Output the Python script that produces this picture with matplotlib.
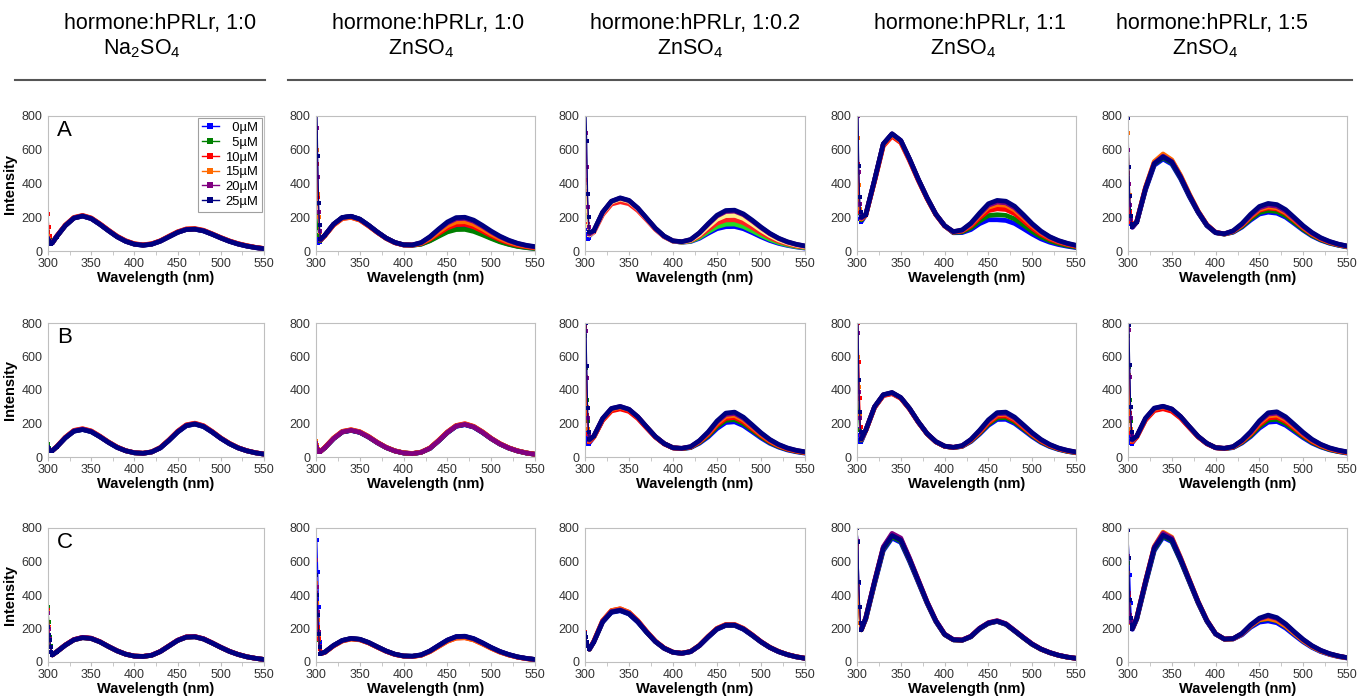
import matplotlib
matplotlib.use('Agg')
import matplotlib.pyplot as plt
from matplotlib.lines import Line2D
from matplotlib.ticker import MultipleLocator

plt.rcParams['font.family'] = ['Liberation Sans', 'DejaVu Sans']
plt.rcParams['mathtext.fontset'] = 'custom'
plt.rcParams['mathtext.rm'] = 'Liberation Sans'

# ---------------- data ----------------
WL = [300, 301, 302, 303, 304, 305, 310, 320, 330, 340, 350, 360, 370, 380, 390, 400,
      410, 420, 430, 440, 450, 460, 470, 480, 490, 500, 510, 520, 530, 540, 550]

CONC_LABELS = ['  0µM', '  5µM', '10µM', '15µM', '20µM', '25µM']
HEADER_1 = ['hormone:hPRLr, 1:0', 'hormone:hPRLr, 1:0', 'hormone:hPRLr, 1:0.2',
            'hormone:hPRLr, 1:1', 'hormone:hPRLr, 1:5']
HEADER_2 = [r'Na$_{\mathregular{2}}$SO$_{\mathregular{4}}$', r'ZnSO$_{\mathregular{4}}$',
            r'ZnSO$_{\mathregular{4}}$', r'ZnSO$_{\mathregular{4}}$', r'ZnSO$_{\mathregular{4}}$']
ROW_LETTERS = ['A', 'B', 'C']
X_TICKS = [300, 350, 400, 450, 500, 550]
Y_TICKS = [0, 200, 400, 600, 800]

# each panel: 6 series (0, 5, 10, 15, 20, 25 uM), values at WL
A1 = [
    [75,60,50,45,44,48,85,150,195,207,192,158,120,84,57,40,34,40,58,84,110,127,129,119,99,77,57,41,29,20,13],
    [110,85,65,52,46,48,85,151,196,208,193,159,121,85,58,41,35,41,59,85,111,128,130,120,100,78,58,42,30,21,14],
    [220,140,90,60,48,49,88,154,199,211,196,162,124,88,61,43,37,43,61,88,114,131,133,123,102,80,60,44,32,22,15],
    [90,70,55,47,45,48,86,152,197,209,194,160,122,86,59,42,36,42,60,86,112,129,131,121,101,79,59,43,31,21,14],
    [80,65,52,46,44,48,86,151,196,208,193,159,121,85,58,41,35,41,59,85,111,128,130,120,100,78,58,42,30,21,14],
    [70,58,50,45,44,48,85,150,195,207,192,158,120,84,57,40,34,40,58,84,110,127,129,119,99,77,57,41,29,20,13],
]
A2 = [
    [75,55,50,52,56,62,92,158,198,205,188,152,112,76,50,36,34,41,62,91,118,133,135,122,101,78,57,41,29,21,15],
    [280,205,135,95,70,62,92,158,198,205,188,152,112,76,50,36,34,40,60,87,113,127,128,116,96,74,54,39,27,20,14],
    [700,515,320,200,110,65,90,153,192,199,183,148,110,75,49,36,35,44,70,104,137,156,158,143,118,91,67,48,34,25,18],
    [900,600,340,200,110,65,90,154,193,200,184,149,110,75,49,36,35,46,75,114,150,172,174,158,131,101,75,54,39,28,21],
    [950,730,440,230,120,65,92,158,198,205,188,152,112,76,50,36,36,49,82,126,166,191,193,176,146,113,84,61,44,32,24],
    [1000,860,565,285,155,70,93,159,199,206,189,153,113,77,51,37,36,50,85,130,172,198,200,183,152,118,88,64,46,34,26],
]
A3 = [
    [130,100,80,72,75,90,116,226,291,310,295,250,191,132,86,59,52,56,75,105,132,144,145,132,109,84,62,45,33,24,17],
    [530,380,250,150,100,95,117,227,292,311,296,251,192,133,87,59,52,58,80,114,144,159,160,145,120,93,69,50,36,26,19],
    [680,420,260,160,105,95,112,215,278,292,280,240,185,128,84,58,53,61,88,128,165,184,185,168,139,108,80,58,42,30,22],
    [620,380,240,150,100,95,116,225,290,308,294,250,191,132,86,59,54,64,97,144,188,210,212,193,160,124,92,66,48,35,26],
    [900,700,495,260,140,100,118,229,294,313,298,253,193,133,87,60,55,67,106,158,207,234,236,215,178,138,102,74,53,39,29],
    [1000,850,650,335,200,110,120,230,295,315,300,255,195,135,88,60,55,68,108,162,212,240,242,220,183,142,105,76,55,40,30],
]
A4 = [
    [370,300,225,190,170,175,214,418,632,692,652,543,423,314,217,150,108,109,127,162,185,185,181,163,132,100,72,52,38,28,20],
    [700,460,320,225,190,185,214,418,632,692,652,543,423,314,217,150,110,113,137,178,210,215,211,190,154,116,84,61,44,32,23],
    [800,515,320,230,195,190,212,412,622,680,642,535,418,310,215,148,112,118,148,197,239,250,246,221,179,135,98,71,52,38,27],
    [850,670,390,250,200,190,213,415,628,688,648,540,421,312,216,149,113,121,156,210,259,275,271,243,197,149,108,78,57,42,30],
    [900,800,470,280,210,195,215,420,634,694,654,544,424,315,218,150,114,123,161,218,271,290,285,256,208,157,114,82,60,44,32],
    [1000,900,505,320,230,200,215,420,635,695,655,545,425,315,218,150,115,125,165,225,280,300,295,265,215,162,118,85,62,46,34],
]
A5 = [
    [360,280,200,160,140,140,170,362,508,545,515,428,322,228,150,108,100,111,141,183,219,230,224,200,162,123,89,64,46,34,24],
    [430,330,240,180,150,145,172,368,515,553,522,434,327,231,152,109,100,113,145,190,228,240,234,209,169,128,93,67,48,35,25],
    [460,320,230,170,145,142,175,375,525,568,535,445,335,235,155,110,101,116,151,200,241,255,249,222,180,136,99,71,51,37,27],
    [700,500,330,200,155,145,176,378,530,575,540,449,338,237,156,111,101,117,154,205,247,262,256,228,185,140,102,73,53,38,28],
    [600,400,270,190,150,143,174,372,520,562,530,440,331,233,154,110,102,118,158,211,255,272,265,236,191,145,106,76,55,40,29],
    [790,500,325,210,160,145,173,370,518,558,527,438,330,232,153,109,102,120,162,218,264,282,275,245,198,150,110,79,57,41,30],
]
B1 = [
    [60,48,38,34,33,38,60,114,154,164,151,121,87,57,37,25,22,30,54,99,148,186,196,181,148,111,79,54,37,25,17],
    [75,55,40,35,34,38,60,115,155,165,152,122,88,58,37,25,22,30,55,100,150,188,198,183,150,112,80,55,37,25,17],
    [62,50,39,34,33,38,62,118,159,169,156,125,90,60,38,26,23,31,57,103,154,192,202,187,153,114,82,56,38,26,18],
    [60,48,38,34,33,38,61,116,157,167,154,123,89,59,37,25,22,30,56,101,152,190,200,185,151,113,81,55,37,25,17],
    [60,48,38,34,33,38,60,115,156,166,153,122,88,58,37,25,22,30,55,100,151,189,199,184,150,112,80,55,37,25,17],
    [58,47,38,34,33,38,60,114,154,164,151,121,87,57,37,25,22,30,54,99,149,187,197,182,149,111,79,54,37,25,17],
]
B2 = [
    [80,60,40,32,30,33,54,109,149,159,147,119,85,56,36,24,20,28,51,96,145,183,193,178,146,109,77,53,36,24,16],
    [80,60,40,32,30,33,55,110,150,160,148,120,86,57,36,24,20,28,52,97,147,185,195,180,148,110,78,54,36,24,16],
    [95,70,45,33,30,33,57,113,153,163,151,123,88,58,37,25,21,29,54,100,150,188,199,183,151,112,80,55,37,25,17],
    [95,70,45,33,30,33,56,112,152,162,150,122,87,58,37,25,21,29,53,99,149,187,197,182,150,111,79,55,37,25,16],
    [85,62,42,32,30,33,55,110,150,160,148,120,86,57,36,24,20,28,52,97,147,185,195,180,148,110,78,54,36,24,16],
    [80,60,40,32,30,33,54,109,149,159,147,119,85,56,36,24,20,28,51,96,146,184,194,179,147,109,77,53,36,24,16],
]
B3 = [
    [160,120,95,80,75,85,120,222,280,293,278,235,177,120,79,55,50,56,82,120,170,206,210,187,151,114,82,59,42,31,23],
    [720,530,340,215,120,95,121,224,283,296,281,237,178,121,79,55,50,57,86,127,181,219,223,199,160,121,87,62,45,33,25],
    [780,470,250,140,100,92,118,218,275,287,272,230,173,118,78,54,51,59,90,134,191,231,236,210,169,128,92,66,47,35,26],
    [760,480,300,170,110,95,121,225,284,297,282,238,179,121,80,55,51,60,93,140,200,243,248,221,178,134,97,69,50,37,28],
    [900,750,470,230,130,100,124,229,289,301,284,240,180,122,80,55,52,61,96,146,209,254,260,231,186,141,102,73,52,39,30],
    [1000,800,545,295,150,105,125,230,290,302,285,240,180,122,80,55,52,62,98,150,215,262,268,238,192,145,105,75,54,40,31],
]
B4 = [
    [170,130,100,90,88,95,158,296,368,381,352,288,208,139,91,64,56,63,92,137,189,224,225,200,161,121,87,62,45,33,25],
    [450,345,240,160,110,100,159,298,370,383,353,289,209,139,91,64,56,64,95,142,196,233,235,209,168,127,91,65,47,34,26],
    [1000,800,570,350,180,110,157,295,366,378,350,286,207,138,90,64,57,65,98,147,203,243,245,218,175,132,95,68,49,36,27],
    [900,600,420,250,140,105,158,297,369,382,352,288,208,139,91,64,57,66,101,152,211,252,255,227,182,137,99,71,51,37,28],
    [950,740,390,230,130,105,160,300,371,384,354,289,209,140,92,65,58,67,103,156,216,258,261,232,187,141,102,73,52,39,29],
    [1000,900,460,270,150,110,160,300,372,385,355,290,210,140,92,65,58,68,105,160,222,265,268,238,192,145,105,75,54,40,30],
]
B5 = [
    [160,125,95,82,76,86,121,224,282,295,280,237,178,121,80,55,50,56,83,122,172,208,212,189,152,115,83,60,43,32,23],
    [720,535,340,215,120,95,122,226,285,298,283,239,179,122,80,56,50,57,87,128,182,221,225,200,161,122,88,63,45,33,25],
    [790,480,260,145,100,92,118,220,277,288,273,232,175,120,79,55,51,59,91,136,193,233,238,212,171,129,93,67,48,35,26],
    [770,490,300,170,110,95,122,227,286,299,284,240,180,122,81,56,51,60,94,142,202,245,250,223,180,136,98,70,50,37,28],
    [900,760,480,235,130,100,124,230,290,302,286,241,181,123,81,56,52,61,97,147,210,256,262,233,188,142,103,74,53,39,30],
    [1000,790,550,300,150,105,125,232,292,303,287,242,182,124,82,56,52,62,99,151,216,264,270,240,194,147,106,76,55,41,31],
]
C1 = [
    [290,200,140,95,60,42,60,100,132,145,140,120,92,66,46,35,33,40,62,95,128,148,150,137,113,87,63,45,31,22,15],
    [330,240,150,95,60,42,61,101,133,146,141,121,93,67,47,35,33,40,63,96,129,149,151,138,114,88,64,45,31,22,15],
    [310,210,140,92,58,42,61,102,134,147,142,122,93,67,47,36,34,41,63,97,130,150,152,139,115,88,64,46,32,22,15],
    [300,205,140,92,58,42,60,100,132,145,140,120,92,66,46,35,33,40,62,95,128,148,150,137,113,87,63,45,31,22,15],
    [290,200,138,90,58,42,61,101,134,147,142,121,93,67,47,35,33,41,63,96,130,150,152,139,114,88,64,45,31,22,15],
    [210,160,130,90,58,42,60,100,132,145,140,120,92,66,46,35,33,40,62,95,128,148,150,137,113,87,63,45,31,22,15],
]
C2 = [
    [300,730,540,330,120,50,58,98,128,140,135,116,90,65,46,36,34,42,65,98,130,150,152,138,113,86,62,44,30,21,15],
    [370,280,200,130,80,50,58,98,128,140,135,116,90,65,46,36,34,41,64,96,128,148,150,136,111,85,61,43,30,21,15],
    [410,300,210,140,80,50,57,96,126,138,133,114,89,64,45,35,33,40,62,93,124,143,145,132,108,82,59,42,29,20,14],
    [470,350,250,160,90,50,57,96,125,137,132,114,88,64,45,35,33,40,62,93,124,143,145,132,108,82,59,42,29,20,14],
    [610,450,300,180,95,50,58,98,128,140,135,116,90,65,46,36,34,42,65,98,130,150,152,138,113,86,62,44,30,21,15],
    [520,400,280,170,90,50,59,99,129,141,136,117,91,66,47,36,35,43,66,99,131,152,154,140,115,87,63,45,31,22,15],
]
C3 = [
    [175,150,120,95,78,76,119,238,296,306,286,238,177,121,81,57,51,61,97,148,195,218,218,195,158,119,86,61,43,30,22],
    [175,150,120,95,78,76,120,240,299,309,289,241,178,122,82,58,52,62,98,150,197,220,220,197,160,120,87,62,44,31,22],
    [178,152,122,96,79,77,124,247,307,318,297,247,183,125,84,59,53,63,100,153,201,224,224,201,163,122,88,63,45,32,23],
    [176,151,121,95,78,77,123,246,306,317,296,246,182,124,83,58,52,63,99,152,200,223,223,200,162,121,88,63,44,31,22],
    [175,150,120,95,78,77,121,242,301,311,291,243,180,123,82,58,52,62,98,151,198,221,221,198,161,121,87,62,44,31,22],
    [175,150,120,95,78,76,120,240,298,308,288,240,178,122,82,58,52,62,98,150,197,220,220,197,160,120,87,62,44,31,22],
]
C4 = [
    [800,720,470,330,230,195,255,465,665,740,714,600,475,350,241,163,132,129,150,198,230,242,224,184,144,105,76,55,40,29,22],
    [700,470,330,230,200,192,258,470,672,748,721,606,480,353,243,164,132,130,151,199,231,243,225,185,144,105,76,56,40,29,22],
    [690,460,330,230,200,192,262,478,682,760,732,615,486,357,246,166,133,131,153,201,233,245,227,187,146,107,77,56,40,29,22],
    [680,460,330,230,200,192,262,478,683,762,734,616,487,358,246,166,133,131,153,201,233,245,227,187,146,107,77,56,40,29,22],
    [800,720,480,330,235,195,265,482,688,768,740,620,490,360,248,167,134,132,154,202,235,247,229,188,147,108,78,57,41,30,22],
    [800,715,475,330,235,192,262,477,679,755,728,612,484,356,245,165,133,130,152,200,232,244,226,186,145,106,77,56,40,29,22],
]
C5 = [
    [790,620,520,350,240,195,255,465,665,745,718,604,478,352,243,166,136,137,162,207,238,245,234,202,160,120,87,62,45,32,24],
    [590,400,260,230,210,198,258,470,672,752,724,608,481,354,245,167,136,138,166,213,249,258,245,212,168,126,91,65,47,34,25],
    [620,400,270,235,212,198,263,480,684,765,736,618,488,359,248,168,137,139,168,216,254,265,251,217,172,129,93,67,48,35,25],
    [530,340,260,230,210,198,265,484,690,775,745,624,492,362,250,169,137,138,167,215,252,260,247,214,170,127,92,66,47,34,25],
    [630,410,280,240,215,199,264,482,686,768,739,620,489,360,249,168,137,139,169,219,258,275,260,224,177,133,96,69,49,36,26],
    [790,620,370,260,220,200,262,478,680,757,730,614,486,358,247,168,137,140,170,222,262,280,265,228,180,135,98,70,50,36,26],
]

PANELS = [[A1, A2, A3, A4, A5], [B1, B2, B3, B4, B5], [C1, C2, C3, C4, C5]]

# ---------------- style ----------------
COLORS = ['#0000FF', '#008000', '#FF0000', '#FF6A00', '#800080', '#000080']
COLORS_A3 = ['#0000FF', '#22DD22', '#FF2020', '#FFF08A', '#800080', '#000080']
W, H = 1368, 700
COL_X = [(48, 264), (316, 535), (585, 805), (857, 1076), (1128, 1347)]
ROW_Y = [(116, 251), (323, 457), (528, 662)]
HEAD1_X = [160, 428, 695, 970, 1212]
HEAD2_X = [142, 421, 690, 963, 1205]
SPINE = '#BFBFBF'

fig = plt.figure(figsize=(W / 100, H / 100), dpi=100)

for c in range(5):
    fig.text(HEAD1_X[c] / W, 1 - 23 / H, HEADER_1[c], ha='center', va='center', fontsize=15.5)
    fig.text(HEAD2_X[c] / W, 1 - 49 / H, HEADER_2[c], ha='center', va='center', fontsize=15.5)

fig.add_artist(Line2D([15 / W, 265 / W], [1 - 80 / H] * 2, color='#555555', lw=1.5))
fig.add_artist(Line2D([288 / W, 1352 / W], [1 - 80 / H] * 2, color='#555555', lw=1.5))

for r in range(3):
    for c in range(5):
        x0, x1 = COL_X[c]
        y0, y1 = ROW_Y[r]
        ax = fig.add_axes([x0 / W, 1 - y1 / H, (x1 - x0) / W, (y1 - y0) / H])
        data = PANELS[r][c]
        colors = COLORS_A3 if (r, c) == (0, 2) else COLORS
        order = [5, 0, 1, 2, 3, 4] if (r, c) == (1, 1) else [0, 1, 2, 3, 4, 5]
        for i in order:
            y = data[i]
            ax.plot(WL[:7], y[:7], color=colors[i], lw=0.8, marker='s', ms=2.6, mew=0)
            ax.plot(WL[5:], y[5:], color=colors[i], lw=3.4,
                    solid_joinstyle='round', solid_capstyle='round')
        ax.set_xlim(300, 550)
        ax.set_ylim(0, 800)
        ax.set_xticks(X_TICKS)
        ax.xaxis.set_minor_locator(MultipleLocator(25))
        ax.set_yticks(Y_TICKS)
        for s in ax.spines.values():
            s.set_color(SPINE)
            s.set_linewidth(0.8)
        ax.tick_params(axis='x', which='both', direction='out', length=3, color=SPINE,
                       labelsize=9, labelcolor='#333333', pad=2)
        ax.tick_params(axis='y', length=0, labelsize=9, labelcolor='#333333', pad=4)
        ax.set_xlabel('Wavelength (nm)', fontsize=10.5, fontweight='bold', labelpad=1)
        if c == 0:
            ax.set_ylabel('Intensity', fontsize=10.5, fontweight='bold', labelpad=3)
            ax.text(0.04, 0.895, ROW_LETTERS[r], transform=ax.transAxes,
                    fontsize=16, ha='left', va='center')
        if (r, c) == (0, 0):
            handles = [Line2D([0], [0], color=COLORS[i], lw=1.0, marker='s', ms=5, mew=0)
                       for i in range(6)]
            leg = ax.legend(handles, CONC_LABELS, loc='upper right', fontsize=9.4,
                            handlelength=1.3, handletextpad=0.5, labelspacing=0.2,
                            borderpad=0.3, borderaxespad=0.15, fancybox=False,
                            framealpha=1)
            leg.get_frame().set_edgecolor('#A0A0A0')
            leg.get_frame().set_linewidth(0.8)

fig.savefig('out.png', dpi=100)
